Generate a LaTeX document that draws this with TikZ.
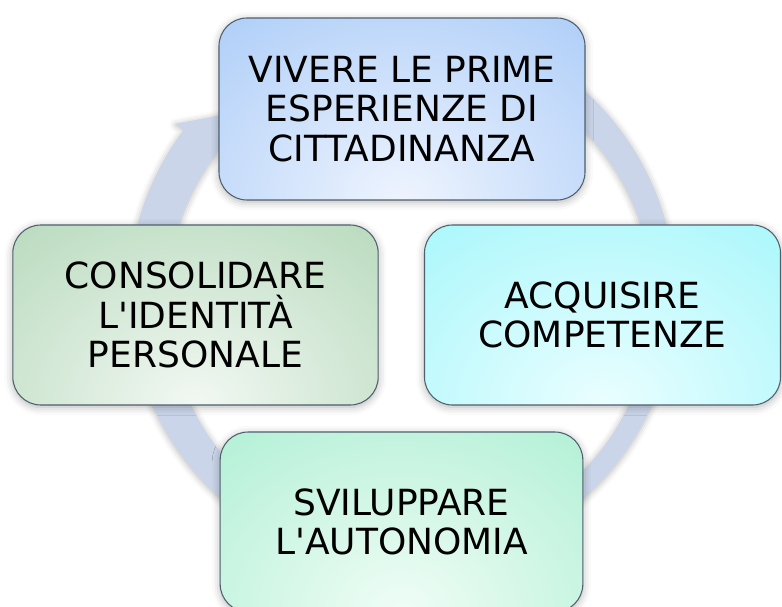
\documentclass[tikz,border=0pt]{standalone}
\usepackage{fontspec}
\setmainfont{DejaVu Sans}
\usepackage{tikz}
\usetikzlibrary{shadows.blur}

\definecolor{ringblue}{RGB}{202,213,233}
\definecolor{edgegrey}{RGB}{80,96,110}
\definecolor{vivout}{RGB}{156,195,246}
\definecolor{vivin}{RGB}{238,244,254}
\definecolor{acqout}{RGB}{150,245,250}
\definecolor{acqin}{RGB}{234,254,255}
\definecolor{conout}{RGB}{168,210,174}
\definecolor{conin}{RGB}{242,248,243}
\definecolor{sviout}{RGB}{160,236,204}
\definecolor{sviin}{RGB}{240,253,246}

\newcommand{\apos}{\textquotesingle}

\begin{document}
\begin{tikzpicture}[x=0.75pt, y=-0.75pt]
\tikzstyle{stagebox}=[draw=edgegrey, line width=0.8pt, rounded corners=21pt, align=center, text=black, font=\fontsize{27}{29.5}\selectfont, blur shadow={shadow xshift=0pt, shadow yshift=-1.5pt, shadow blur radius=6pt, shadow opacity=30}]
\tikzstyle{stagefill}=[path picture={\shade[inner color=#1in, outer color=#1out] ([xshift=-280pt,yshift=-230pt]path picture bounding box.south) rectangle ([xshift=280pt,yshift=230pt]path picture bounding box.south);}]
\tikzstyle{cyclering}=[fill=ringblue, blur shadow={shadow xshift=0pt, shadow yshift=-1pt, shadow blur radius=5pt, shadow opacity=30}]

\useasboundingbox (0,0) rectangle (782,607);
\coordinate (c) at (402,294);

%% ring with arrow head at top left
\fill[cyclering] ([shift={(-80:273)}]c) arc[start angle=-80, end angle=217, radius=273]
  -- ([shift={(217:283)}]c) -- ([shift={(228:245)}]c) -- ([shift={(217:233)}]c)
  arc[start angle=217, end angle=-80, radius=243] -- cycle;

\node (s0) at (402,109) [stagebox, stagefill=viv, minimum width=274.5pt, minimum height=136.5pt] {VIVERE LE PRIME\\ESPERIENZE DI\\CITTADINANZA};
\node (s1) at (602.5,315) [stagebox, stagefill=acq, minimum width=267pt, minimum height=135pt] {ACQUISIRE\\COMPETENZE};
\node (s2) at (401.5,522) [stagebox, stagefill=svi, minimum width=272pt, minimum height=135pt] {SVILUPPARE\\L\apos AUTONOMIA};
\node (s3) at (195.5,315) [stagebox, stagefill=con, minimum width=274pt, minimum height=135pt] {CONSOLIDARE\\L\apos IDENTITÀ\\PERSONALE};
\end{tikzpicture}
\end{document}
